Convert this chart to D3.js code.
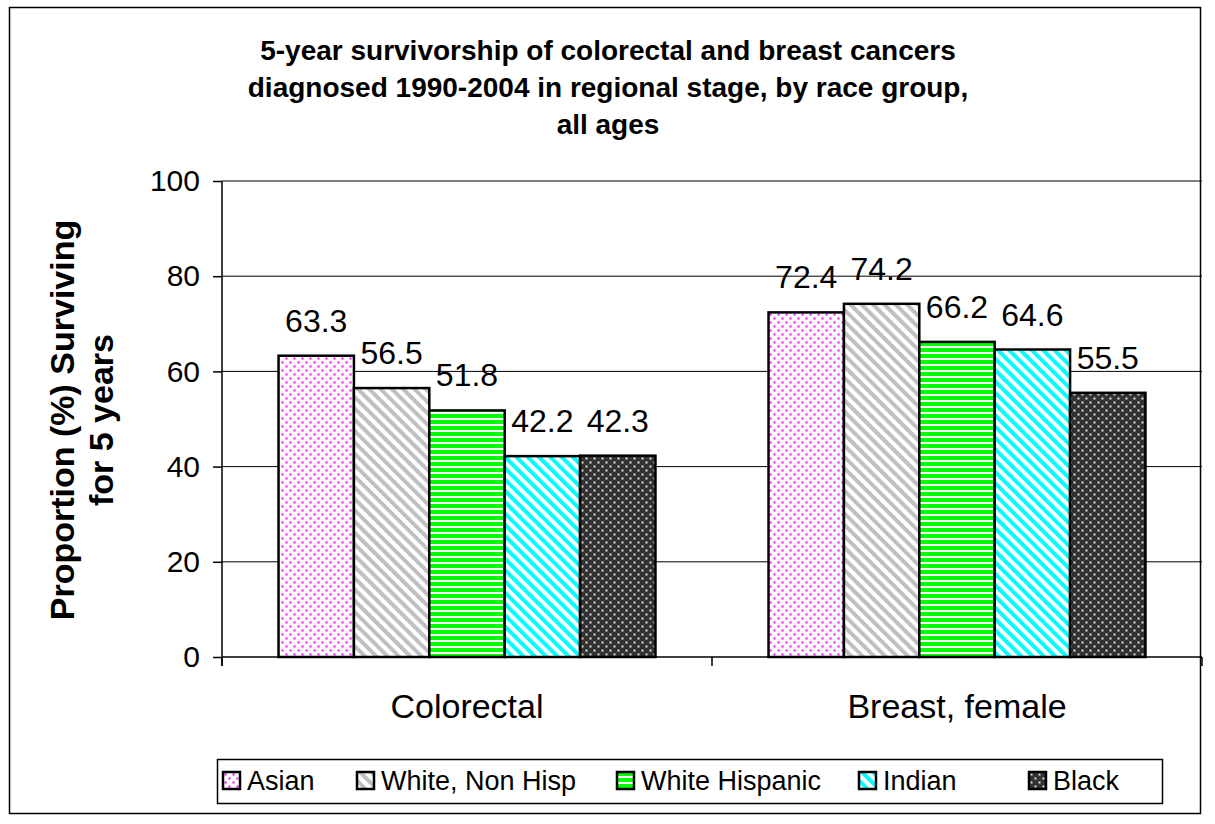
<!DOCTYPE html>
<html>
<head>
<meta charset="utf-8">
<script src="https://cdn.jsdelivr.net/npm/d3@7"></script>
<style>
  body { margin: 0; background: #fff; }
  svg { display: block; font-family: "Liberation Sans", Arial, sans-serif; }
</style>
</head>
<body>
<script>
var categories = ['Colorectal', 'Breast, female'];
var groups = ['Asian', 'White, Non Hisp', 'White Hispanic', 'Indian', 'Black'];
var colorectal = [63.3, 56.5, 51.8, 42.2, 42.3];
var breast = [72.4, 74.2, 66.2, 64.6, 55.5];
var yTicks = [0, 20, 40, 60, 80, 100];

var values = [colorectal, breast];
var data = [];
categories.forEach((c, i) => {
  groups.forEach((g, j) => data.push({cat: c, grp: g, idx: j, v: values[i][j]}));
});

var w = 1215, h = 824;
var svg = d3.select('body').append('svg')
  .attr('width', w)
  .attr('height', h);

// PATTERNS
var defs = svg.append('defs');

function dots(id, bg, fg) {
  var p = defs.append('pattern').attr('id', id)
    .attr('patternUnits', 'userSpaceOnUse').attr('width', 8).attr('height', 8);
  p.append('rect').attr('width', 8).attr('height', 8).attr('fill', bg);
  p.append('rect').attr('x', 1.5).attr('y', 1.5).attr('width', 2).attr('height', 2).attr('fill', fg);
  p.append('rect').attr('x', 5.5).attr('y', 5.5).attr('width', 2).attr('height', 2).attr('fill', fg);
}
function diag(id, fg) {
  var p = defs.append('pattern').attr('id', id)
    .attr('patternUnits', 'userSpaceOnUse').attr('width', 8).attr('height', 8)
    .attr('patternTransform', 'rotate(-45)');
  p.append('rect').attr('width', 8).attr('height', 8).attr('fill', '#fff');
  p.append('rect').attr('width', 4).attr('height', 8).attr('fill', fg);
}
dots('pAsian', '#fff', '#ff00ff');
diag('pWhite', '#c0c0c0');
var ph = defs.append('pattern').attr('id', 'pHisp')
  .attr('patternUnits', 'userSpaceOnUse').attr('width', 6).attr('height', 6);
ph.append('rect').attr('width', 6).attr('height', 6).attr('fill', '#fff');
ph.append('rect').attr('width', 6).attr('height', 4).attr('fill', '#00ff00');
diag('pIndian', '#00ffff');
dots('pBlack', '#333333', '#e0e0e0');

var fills = ['url(#pAsian)', 'url(#pWhite)', 'url(#pHisp)', 'url(#pIndian)', 'url(#pBlack)'];

// outer frame
svg.append('rect')
  .attr('x', 9.5).attr('y', 7.5)
  .attr('width', 1191).attr('height', 806)
  .attr('fill', 'none').attr('stroke', '#000').attr('stroke-width', 1.5);

// SCALES
var pLeft = 222, pRight = 1202, pTop = 181, pBottom = 657;
var x0 = d3.scaleBand().domain(categories).range([pLeft, pRight]).padding(0);
var x1 = d3.scaleBand().domain(groups).range([0, x0.bandwidth()])
  .paddingInner(0).paddingOuter(0.75);
var y = d3.scaleLinear().domain([0, 100]).range([pBottom, pTop]);

// gridlines
svg.append('g').selectAll('line')
  .data(yTicks.filter(d => d > 0))
  .enter().append('line')
  .attr('x1', pLeft).attr('x2', pRight)
  .attr('y1', d => y(d)).attr('y2', d => y(d))
  .attr('stroke', '#000').attr('stroke-width', 1);

// BARS
svg.append('g').selectAll('rect')
  .data(data)
  .enter().append('rect')
  .attr('x', d => x0(d.cat) + x1(d.grp))
  .attr('y', d => y(d.v))
  .attr('width', x1.bandwidth())
  .attr('height', d => y(0) - y(d.v))
  .attr('fill', d => fills[d.idx])
  .attr('stroke', '#000')
  .attr('stroke-width', 2.5);

// value labels
svg.append('g').selectAll('text')
  .data(data)
  .enter().append('text')
  .attr('x', d => x0(d.cat) + x1(d.grp) + x1.bandwidth() / 2)
  .attr('y', d => y(d.v) - 24)
  .attr('text-anchor', 'middle')
  .style('font-size', '32px')
  .text(d => d.v.toFixed(1));

// AXES
var yAxis = d3.axisLeft(y).tickValues(yTicks).tickSize(9).tickPadding(13);
var gy = svg.append('g')
  .attr('transform', `translate(${pLeft},0)`)
  .call(yAxis);
gy.select('.domain').remove();
gy.append('line').attr('x1', 0).attr('x2', 0).attr('y1', pTop).attr('y2', pBottom + 9)
  .attr('stroke', '#000').attr('stroke-width', 1.5);
gy.selectAll('.tick line').attr('stroke', '#000').attr('stroke-width', 1.5);
gy.selectAll('.tick text').style('font-size', '30px').attr('fill', '#000')
  .attr('font-family', 'Liberation Sans, Arial, sans-serif');

var xTicks = d3.scaleLinear().domain([0, 2]).range([pLeft, pRight]);
var gx = svg.append('g');
gx.append('line').attr('x1', pLeft).attr('x2', pRight).attr('y1', pBottom).attr('y2', pBottom)
  .attr('stroke', '#000').attr('stroke-width', 1.5);
gx.selectAll('line.tk')
  .data([0, 1, 2]).enter().append('line').attr('class', 'tk')
  .attr('x1', d => xTicks(d)).attr('x2', d => xTicks(d))
  .attr('y1', pBottom).attr('y2', pBottom + 9)
  .attr('stroke', '#000').attr('stroke-width', 1.5);
gx.selectAll('text')
  .data(categories).enter().append('text')
  .attr('x', d => x0(d) + x0.bandwidth() / 2)
  .attr('y', 718)
  .attr('text-anchor', 'middle')
  .style('font-size', '34px')
  .text(d => d);

// TITLE
var title = ['5-year survivorship of colorectal and breast cancers',
  'diagnosed 1990-2004 in regional stage, by race group,',
  'all ages'];
svg.append('g').selectAll('text')
  .data(title).enter().append('text')
  .attr('x', 608)
  .attr('y', (d, i) => 60 + i * 37)
  .attr('text-anchor', 'middle')
  .style('font-size', '28px')
  .style('font-weight', 'bold')
  .text(d => d);

// y label
var ylab = ['Proportion (%) Surviving', 'for 5 years'];
svg.append('g').selectAll('text')
  .data(ylab).enter().append('text')
  .attr('transform', (d, i) => `translate(${74 + i * 39},420)rotate(-90)`)
  .attr('text-anchor', 'middle')
  .style('font-size', '34px')
  .style('font-weight', 'bold')
  .text(d => d);

// LEGEND
var legend = svg.append('g');
legend.append('rect')
  .attr('x', 217.5).attr('y', 759.5).attr('width', 945).attr('height', 44)
  .attr('fill', '#fff').attr('stroke', '#000').attr('stroke-width', 1.5);
var legX = [223, 357, 617, 859, 1029];
var items = legend.selectAll('g.item')
  .data(groups).enter().append('g').attr('class', 'item')
  .attr('transform', (d, i) => `translate(${legX[i]},772)`);
items.append('rect')
  .attr('width', 17).attr('height', 17)
  .attr('fill', (d, i) => fills[i])
  .attr('stroke', '#000').attr('stroke-width', 2.5);
items.append('text')
  .attr('x', 24).attr('y', 18)
  .style('font-size', '27px')
  .text(d => d);
</script>
</body>
</html>
